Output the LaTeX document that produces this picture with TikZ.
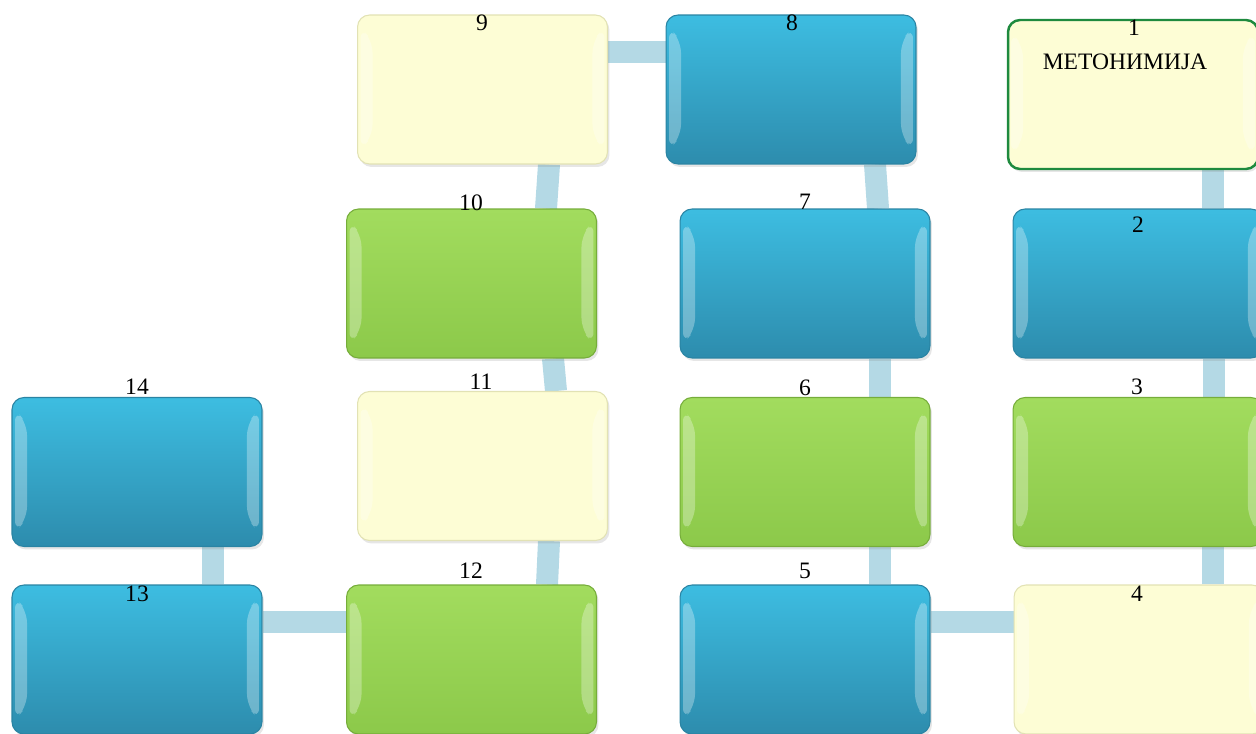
\documentclass[tikz,border=0pt]{standalone}
\usepackage{fontspec}
\setmainfont{Liberation Serif}
\usetikzlibrary{calc,backgrounds,shadows}
\definecolor{smbluetop}{HTML}{3DBDE1}
\definecolor{smbluebot}{HTML}{2D8CAD}
\definecolor{smblueline}{HTML}{2A84A3}
\definecolor{smgreentop}{HTML}{A2DC5E}
\definecolor{smgreenbot}{HTML}{8CC94A}
\definecolor{smgreenline}{HTML}{76AD3A}
\definecolor{smcream}{HTML}{FDFDD5}
\definecolor{smcreamline}{HTML}{E2E2B4}
\definecolor{smframe}{HTML}{1E8A3E}
\definecolor{smlink}{HTML}{B4D9E5}

\begin{document}
\begin{tikzpicture}[x=0.02cm,y=-0.02cm,
  box/.style={rectangle,rounded corners=0.24cm,minimum width=5cm,
    minimum height=2.98cm,inner sep=0pt,line width=0.6pt,
    drop shadow={opacity=0.2,shadow xshift=0.04cm,shadow yshift=-0.06cm},
    path picture={
      \fill[white,opacity=.3]
        ([shift={(3,12)}]path picture bounding box.north west) -- ++(12,14)
        -- ([shift={(15,-28)}]path picture bounding box.south west)
        -- ++(-12,14) -- cycle;
      \fill[white,opacity=.3]
        ([shift={(-3,12)}]path picture bounding box.north east) -- ++(-12,14)
        -- ([shift={(-15,-28)}]path picture bounding box.south east)
        -- ++(12,14) -- cycle;}},
  bluebox/.style={box,top color=smbluetop,bottom color=smbluebot,draw=smblueline},
  greenbox/.style={box,top color=smgreentop,bottom color=smgreenbot,draw=smgreenline},
  creambox/.style={box,fill=smcream,draw=smcreamline},
  link/.style={smlink,line width=0.44cm},
  num/.style={font=\fontsize{13.4}{15}\selectfont,inner sep=0pt}]
\useasboundingbox (0,0) rectangle (1256,733);

% boxes, right to left
\node[creambox,draw=smframe,line width=1.4pt] (b1) at (1133,94.5) {};
\node[bluebox] (b2) at (1138,283.5) {};
\node[greenbox] (b3) at (1138,472) {};
\node[creambox] (b4) at (1139,659.5) {};
\node[bluebox] (b5) at (805,659.5) {};
\node[greenbox] (b6) at (805,472) {};
\node[bluebox] (b7) at (805,283.5) {};
\node[bluebox] (b8) at (791,89.5) {};
\node[creambox] (b9) at (482.5,89.5) {};
\node[greenbox] (b10) at (471.5,283.5) {};
\node[creambox] (b11) at (482.5,466) {};
\node[greenbox] (b12) at (471.5,659.5) {};
\node[bluebox] (b13) at (137,659.5) {};
\node[bluebox] (b14) at (137,472) {};

% numbers
\node[num] (t1) at (1134,28) {1};
\node[num] (tname) at (1125,62) {МЕТОНИМИЈА};
\node[num] (t2) at (1138,225) {2};
\node[num] (t3) at (1137,387) {3};
\node[num] (t4) at (1137,594) {4};
\node[num] (t5) at (805,571) {5};
\node[num] (t6) at (805,388) {6};
\node[num] (t7) at (805,202) {7};
\node[num] (t8) at (792,23) {8};
\node[num] (t9) at (482,23) {9};
\node[num] (t10) at (471,203) {10};
\node[num] (t11) at (481,382) {11};
\node[num] (t12) at (471,571) {12};
\node[num] (t13) at (137,594) {13};
\node[num] (t14) at (137,387) {14};

% connectors behind the boxes
\begin{scope}[on background layer]
\draw[link] ($(b1.south)+(80,0)$) -- ($(b2.north)+(75,0)$);
\draw[link] ($(b2.south)+(76,0)$) -- ($(b3.north)+(76,0)$);
\draw[link] ($(b3.south)+(75,0)$) -- ($(b4.north)+(74,0)$);
\draw[link] ($(b4.west)+(0,-37.5)$) -- ($(b5.east)+(0,-37.5)$);
\draw[link] ($(b5.north)+(75,0)$) -- ($(b6.south)+(75,0)$);
\draw[link] ($(b6.north)+(75,0)$) -- ($(b7.south)+(75,0)$);
\draw[link] ($(b7.north)+(73,0)$) -- ($(b8.south)+(84,0)$);
\draw[link] ($(b8.west)+(0,-37.5)$) -- ($(b9.east)+(0,-37.5)$);
\draw[link] ($(b9.south)+(66.5,0)$) -- ($(b10.north)+(74.5,0)$);
\draw[link] ($(b10.south)+(81.5,0)$) -- ($(b11.north)+(73.5,0)$);
\draw[link] ($(b11.south)+(66.5,0)$) -- ($(b12.north)+(75.5,0)$);
\draw[link] ($(b12.west)+(0,-37.5)$) -- ($(b13.east)+(0,-37.5)$);
\draw[link] ($(b13.north)+(76,0)$) -- ($(b14.south)+(76,0)$);
\end{scope}
\end{tikzpicture}
\end{document}
